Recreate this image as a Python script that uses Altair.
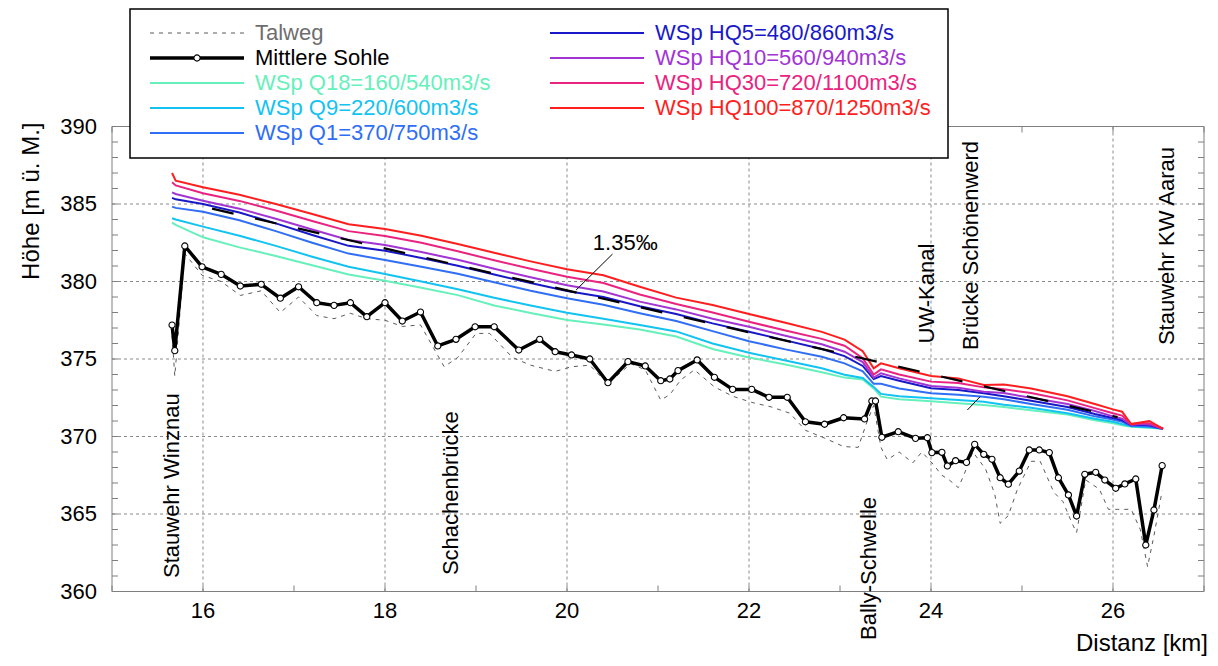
import altair as alt
import pandas as pd

FONT = "Liberation Sans"
GRAY = "#7f7f7f"

X_DOMAIN = [15, 27]
Y_DOMAIN = [360, 390]
X_LABELS = [16, 18, 20, 22, 24, 26]
Y_LABELS = [360, 365, 370, 375, 380, 385, 390]
X_TICKS = list(range(15, 28))
Y_TICKS = list(range(360, 391))
X_TITLE = "Distanz [km]"
Y_TITLE = "Höhe [m ü. M.]"

SERIES = ["Talweg", "Mittlere Sohle", "WSp Q18=160/540m3/s", "WSp Q9=220/600m3/s",
          "WSp Q1=370/750m3/s", "WSp HQ5=480/860m3/s", "WSp HQ10=560/940m3/s",
          "WSp HQ30=720/1100m3/s", "WSp HQ100=870/1250m3/s"]
COLORS = ["#6e6e6e", "#000000", "#66f0bb", "#12c3f2", "#2f6ef5", "#1818c8",
          "#a234d4", "#ea2380", "#ff1e1e"]

TALWEG_KM = [15.66, 15.69, 15.80, 15.99, 16.20, 16.41, 16.64, 16.85, 17.05, 17.25, 17.44,
             17.62, 17.80, 18.00, 18.19, 18.39, 18.65, 18.80, 19.00, 19.15, 19.40, 19.60,
             19.87, 20.05, 20.25, 20.45, 20.70, 20.86, 21.03, 21.13, 21.25, 21.40, 21.62,
             21.82, 22.03, 22.25, 22.45, 22.62, 22.83, 23.04, 23.20, 23.30, 23.37, 23.45,
             23.52, 23.65, 23.80, 23.90, 24.01, 24.12, 24.20, 24.30, 24.36, 24.46, 24.60,
             24.70, 24.76, 24.85, 24.95, 25.10, 25.20, 25.35, 25.45, 25.55, 25.60, 25.70,
             25.85, 25.95, 26.05, 26.20, 26.30, 26.38, 26.45, 26.54]
TALWEG_H = [376.5, 373.9, 381.8, 380.4, 380.0, 379.1, 379.4, 378.0, 379.0, 377.8, 377.6,
            377.95, 377.6, 377.5, 377.1, 377.2, 374.5, 375.1, 376.65, 376.65, 375.1, 374.6,
            374.2, 374.5, 374.6, 373.4, 374.7, 374.3, 372.35, 372.7, 373.65, 374.3, 373.2,
            372.6, 372.2, 371.9, 371.5, 370.4, 369.9, 369.35, 369.3, 371.0, 372.0, 369.3,
            368.5, 369.0, 368.3, 369.0, 368.3, 367.5, 367.2, 366.7, 367.5, 369.0, 367.9,
            366.3, 364.4, 364.9, 366.6, 368.4, 368.4, 366.4, 365.8, 364.4, 363.8, 367.2,
            366.6, 365.3, 365.3, 365.3, 364.0, 361.6, 363.6, 366.5]

SOHLE_KM = [15.66, 15.69, 15.80, 15.99, 16.20, 16.41, 16.64, 16.85, 17.05, 17.25, 17.44,
            17.62, 17.80, 18.00, 18.19, 18.39, 18.58, 18.78, 18.99, 19.20, 19.47, 19.70,
            19.87, 20.05, 20.25, 20.45, 20.67, 20.86, 21.03, 21.13, 21.22, 21.43, 21.62,
            21.82, 22.03, 22.22, 22.42, 22.62, 22.83, 23.04, 23.27, 23.35, 23.39, 23.46,
            23.64, 23.83, 23.96, 24.01, 24.12, 24.18, 24.27, 24.39, 24.48, 24.58, 24.67,
            24.76, 24.85, 24.97, 25.08, 25.19, 25.30, 25.40, 25.51, 25.60, 25.69, 25.81,
            25.91, 26.03, 26.13, 26.25, 26.36, 26.45, 26.54]
SOHLE_H = [377.19, 375.54, 382.29, 380.95, 380.46, 379.71, 379.82, 378.92, 379.66, 378.63,
           378.46, 378.63, 377.73, 378.63, 377.45, 378.03, 375.84, 376.27, 377.08, 377.08,
           375.58, 376.27, 375.47, 375.26, 375.0, 373.47, 374.83, 374.55, 373.6, 373.71,
           374.25, 374.94, 373.82, 373.04, 373.04, 372.53, 372.53, 370.95, 370.79, 371.21,
           371.13, 372.29, 372.29, 369.95, 370.31, 369.88, 369.92, 368.96, 368.98, 368.10,
           368.44, 368.33, 369.49, 368.85, 368.53, 367.34, 366.92, 367.77, 369.13, 369.13,
           368.96, 367.34, 366.23, 364.87, 367.56, 367.69, 367.19, 366.66, 366.94, 367.26,
           363.0, 365.26, 368.12]

WSP_KM = [15.66, 15.70, 16.0, 16.4, 16.8, 17.2, 17.6, 18.0, 18.4, 18.8, 19.2, 19.6, 20.0,
          20.4, 20.8, 21.2, 21.6, 22.0, 22.4, 22.8, 23.05, 23.25, 23.37, 23.45, 23.65, 24.0,
          24.3, 24.58, 24.8, 25.1, 25.5, 25.8, 26.0, 26.1, 26.2, 26.3, 26.4, 26.55]
WSP_Q18 = [383.8, 383.65, 382.85, 382.2, 381.65, 381.05, 380.45, 380.05, 379.6, 379.12,
           378.45, 377.97, 377.52, 377.22, 376.9, 376.45, 375.65, 375.1, 374.65, 374.15,
           373.8, 373.68, 373.1, 372.57, 372.4, 372.28, 372.15, 372.03, 371.9, 371.7, 371.42,
           371.05, 370.85, 370.72, 370.63, 370.6, 370.57, 370.5]
WSP_Q9 = [384.08, 384.0, 383.54, 382.95, 382.3, 381.6, 380.95, 380.48, 380.0, 379.5, 378.95,
          378.45, 377.99, 377.6, 377.2, 376.78, 376.0, 375.4, 374.9, 374.4, 373.98,
          373.78, 373.2, 372.75, 372.6, 372.46, 372.35, 372.24, 372.05, 371.85, 371.5,
          371.15, 370.95, 370.8, 370.66, 370.62, 370.6, 370.5]
WSP_Q1 = [384.83, 384.75, 384.5, 383.95, 383.25, 382.5, 381.8, 381.39, 380.95, 380.5,
          379.95, 379.4, 378.92, 378.5, 377.95, 377.45, 376.8, 376.15, 375.62, 375.15, 374.72,
          374.2, 373.4, 373.4, 373.1, 372.79, 372.7, 372.57, 372.4, 372.1, 371.72, 371.3,
          371.1, 370.95, 370.7, 370.68, 370.65, 370.5]
WSP_HQ5 = [385.4, 385.3, 385.0, 384.45, 383.75, 383.0, 382.3, 381.99, 381.52, 381.02,
           380.45, 379.9, 379.39, 379.0, 378.4, 377.9, 377.3, 376.76, 376.2, 375.65, 375.19,
           374.55, 373.7, 373.9, 373.6, 373.11, 373.0, 372.79, 372.6, 372.3, 371.9, 371.45,
           371.2, 371.05, 370.72, 370.75, 370.72, 370.5]
WSP_HQ10 = [385.75, 385.65, 385.21, 384.7, 384.05, 383.35, 382.68, 382.35, 381.9, 381.4,
            380.82, 380.27, 379.76, 379.35, 378.7, 378.2, 377.6, 377.08, 376.5, 375.95,
            375.47, 374.8, 373.8, 374.08, 373.75, 373.26, 373.15, 372.89, 372.8, 372.5, 372.1,
            371.65, 371.3, 371.15, 370.75, 370.8, 370.78, 370.5]
WSP_HQ30 = [386.4, 386.2, 385.69, 385.2, 384.58, 383.9, 383.25, 382.94, 382.5, 381.95,
            381.37, 380.82, 380.31, 379.9, 379.16, 378.55, 378.0, 377.4, 376.84, 376.3,
            375.86, 375.05, 374.0, 374.33, 374.0, 373.54, 373.45, 373.17, 373.05, 372.8,
            372.33, 371.83, 371.5, 371.35, 370.8, 370.85, 370.85, 370.5]
WSP_HQ100 = [387.0, 386.5, 386.08, 385.6, 385.0, 384.35, 383.7, 383.39, 382.95, 382.42,
             381.85, 381.3, 380.79, 380.4, 379.66, 378.96, 378.48, 377.9, 377.34, 376.75,
             376.25, 375.5, 374.4, 374.72, 374.4, 373.9, 373.75, 373.32, 373.35, 373.1, 372.6,
             372.1, 371.75, 371.6, 370.8, 370.9, 371.0, 370.5]

SLOPE_KM = [16.1, 26.05]
SLOPE_H = [384.7, 371.25]
SLOPE_TEXT = "1.35‰"
SLOPE_TEXT_KM = [20.64]
SLOPE_TEXT_H = [382.46]
LEADER_KM = [20.1, 24.4]
LEADER_H = [379.45, 371.71]
LEADER_KM2 = [20.5, 24.54]
LEADER_H2 = [381.77, 372.57]

SITE_NAMES = ["Stauwehr Winznau", "Schachenbrücke", "Bally-Schwelle", "UW-Kanal",
              "Brücke Schönenwerd", "Stauwehr KW Aarau"]
SITE_KM = [15.66, 18.72, 23.32, 23.96, 24.44, 26.59]
SITE_H = [360.87, 361.06, 356.87, 376.0, 375.58, 375.9]

W, H = 1092, 465

xs = alt.Scale(domain=X_DOMAIN, nice=False, zero=False)
ys = alt.Scale(domain=Y_DOMAIN, nice=False, zero=False)


def X():
    return alt.X("km:Q", scale=xs, axis=None)


def Y():
    return alt.Y("h:Q", scale=ys, axis=None)


one = pd.DataFrame({"a": [0]})
xt = pd.DataFrame({"km": X_TICKS})
yt = pd.DataFrame({"h": Y_TICKS})
xl = pd.DataFrame({"km": X_LABELS, "t": [str(v) for v in X_LABELS]})
yl = pd.DataFrame({"h": Y_LABELS, "t": [str(v) for v in Y_LABELS]})

layers = []

# dotted grid
layers.append(alt.Chart(xl).mark_rule(color="#8a8a8a", strokeWidth=1, strokeDash=[3, 3]).encode(
    x=X(), y=alt.value(0), y2=alt.value(H)))
layers.append(alt.Chart(yl).mark_rule(color="#8a8a8a", strokeWidth=1, strokeDash=[3, 3]).encode(
    y=Y(), x=alt.value(0), x2=alt.value(W)))

# inward ticks and frame
layers.append(alt.Chart(xt).mark_rule(color=GRAY, strokeWidth=1).encode(
    x=X(), y=alt.value(H - 6), y2=alt.value(H)))
layers.append(alt.Chart(xt).mark_rule(color=GRAY, strokeWidth=1).encode(
    x=X(), y=alt.value(0), y2=alt.value(6)))
layers.append(alt.Chart(yt).mark_rule(color=GRAY, strokeWidth=1).encode(
    y=Y(), x=alt.value(0), x2=alt.value(6)))
layers.append(alt.Chart(yt).mark_rule(color=GRAY, strokeWidth=1).encode(
    y=Y(), x=alt.value(W - 6), x2=alt.value(W)))
layers.append(alt.Chart(one).mark_rect(fillOpacity=0, stroke=GRAY, strokeWidth=1).encode(
    x=alt.value(0), x2=alt.value(W), y=alt.value(0), y2=alt.value(H)))

# tick labels and axis titles
layers.append(alt.Chart(xl).mark_text(font=FONT, fontSize=22, align="center", baseline="middle",
                                      color="black").encode(x=X(), y=alt.value(H + 19), text="t:N"))
layers.append(alt.Chart(yl).mark_text(font=FONT, fontSize=22, align="right", baseline="middle",
                                      color="black").encode(y=Y(), x=alt.value(-15), text="t:N"))
layers.append(alt.Chart(one).mark_text(text=X_TITLE, font=FONT, fontSize=24, align="right",
                                       baseline="middle", color="black").encode(
    x=alt.value(W + 4), y=alt.value(H + 52)))
layers.append(alt.Chart(one).mark_text(text=Y_TITLE, font=FONT, fontSize=24, angle=270,
                                       align="right", baseline="middle", color="black").encode(
    x=alt.value(-80), y=alt.value(-4)))

talweg = pd.DataFrame({"km": TALWEG_KM, "h": TALWEG_H})
layers.append(alt.Chart(talweg).mark_line(color="#5a5a5a", strokeWidth=1, strokeDash=[4, 5]).encode(
    x=X(), y=Y(), order="km:Q"))

sohle = pd.DataFrame({"km": SOHLE_KM, "h": SOHLE_H})
layers.append(alt.Chart(sohle).mark_line(color="black", strokeWidth=3.5, strokeJoin="round").encode(
    x=X(), y=Y(), order="km:Q"))
layers.append(alt.Chart(sohle).mark_point(filled=True, fill="white", stroke="black", strokeWidth=1.1,
                                          size=38, opacity=1).encode(x=X(), y=Y()))

wsp = [WSP_Q18, WSP_Q9, WSP_Q1, WSP_HQ5, WSP_HQ10, WSP_HQ30, WSP_HQ100]
for vals, color in zip(wsp, COLORS[2:]):
    df = pd.DataFrame({"km": WSP_KM, "h": vals})
    layers.append(alt.Chart(df).mark_line(color=color, strokeWidth=2).encode(
        x=X(), y=Y(), order="km:Q"))

slope = pd.DataFrame({"km": SLOPE_KM, "h": SLOPE_H})
layers.append(alt.Chart(slope).mark_line(color="black", strokeWidth=2.2, strokeDash=[22, 22]).encode(
    x=X(), y=Y()))

leaders = pd.DataFrame({"km": LEADER_KM, "h": LEADER_H, "km2": LEADER_KM2, "h2": LEADER_H2})
layers.append(alt.Chart(leaders).mark_rule(color="black", strokeWidth=1).encode(
    x=X(), y=Y(), x2="km2:Q", y2="h2:Q"))

stext = pd.DataFrame({"km": SLOPE_TEXT_KM, "h": SLOPE_TEXT_H, "t": [SLOPE_TEXT]})
layers.append(alt.Chart(stext).mark_text(font=FONT, fontSize=22, align="center", baseline="middle",
                                         color="black").encode(x=X(), y=Y(), text="t:N"))

sites = pd.DataFrame({"km": SITE_KM, "h": SITE_H, "t": SITE_NAMES})
layers.append(alt.Chart(sites).mark_text(font=FONT, fontSize=22, angle=270, align="left",
                                         baseline="middle", color="black").encode(
    x=X(), y=Y(), text="t:N"))

# legend box and entries (layout positions derived from slot index)
layers.append(alt.Chart(one).mark_rect(fill="white", stroke="black", strokeWidth=1.5).encode(
    x=alt.value(18), x2=alt.value(836), y=alt.value(-117.5), y2=alt.value(31.5)))

for i, (name, color) in enumerate(zip(SERIES, COLORS)):
    col = 0 if i < 5 else 1
    row = i if i < 5 else i - 5
    x0 = 38 + 400 * col
    ly = -93.5 + 25 * row
    if name == "Talweg":
        sym = alt.Chart(one).mark_rule(strokeWidth=1, strokeDash=[4, 5], color="#5a5a5a")
    elif name == "Mittlere Sohle":
        sym = alt.Chart(one).mark_rule(strokeWidth=3.5, color="black")
    else:
        sym = alt.Chart(one).mark_rule(strokeWidth=2, color=color)
    layers.append(sym.encode(x=alt.value(x0), x2=alt.value(x0 + 94), y=alt.value(ly)))
    if name == "Mittlere Sohle":
        layers.append(alt.Chart(one).mark_point(filled=True, fill="white", stroke="black",
                                                strokeWidth=1.1, size=38, opacity=1).encode(
            x=alt.value(x0 + 47), y=alt.value(ly)))
    layers.append(alt.Chart(one).mark_text(text=name, color=color, font=FONT, fontSize=22,
                                           align="left", baseline="middle").encode(
        x=alt.value(x0 + 105), y=alt.value(ly)))

chart = alt.layer(*layers).properties(
    width=W, height=H,
    autosize=alt.AutoSizeParams(type="none"),
    padding={"left": 104, "top": 118.5, "right": 6, "bottom": 66},
).configure(font=FONT).configure_view(stroke=None)

chart.save("out.html", embed_options={"renderer": "svg", "actions": False})
